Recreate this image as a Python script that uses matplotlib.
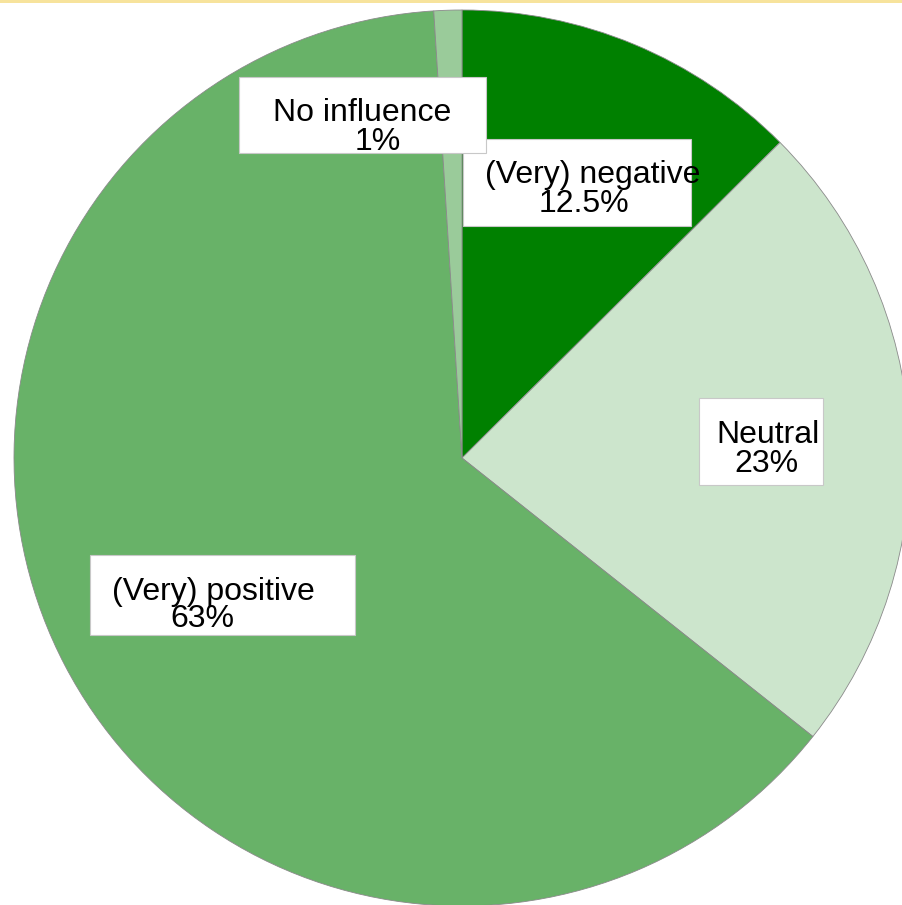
import matplotlib.pyplot as plt
from matplotlib.patches import Rectangle

plt.rcParams['font.family'] = ['Liberation Sans', 'DejaVu Sans']

# Data
categorias = ['(Very) negative', 'Neutral', '(Very) positive', 'No influence']
valores = [12.5, 23, 63, 1]
percentuais = ['12.5%', '23%', '63%', '1%']
cores = ['#008000', '#cce5cc', '#68b268', '#9acb9a']

# Layout (pixel coords of the 902x905 image)
W, H = 902, 905
cx, cy, raio = 462, 458, 448
# caixa: (x0, y0, x1, y1); nome: (x centro, baseline); pct: (x centro, baseline)
caixas = [(463, 139, 691, 226), (699, 398, 823, 485), (90, 555, 355, 635), (239, 77, 486, 153)]
pos_nome = [(593, 183), (768, 443), (213, 600), (362, 121)]
pos_pct = [(584, 212), (766, 472), (202, 627), (378, 150)]

fig = plt.figure(figsize=(W / 100, H / 100), dpi=100)
ax = fig.add_axes([(cx - raio) / W, (H - cy - raio) / H, 2 * raio / W, 2 * raio / H])
ax.pie(valores, colors=cores, startangle=90, counterclock=False,
       wedgeprops=dict(edgecolor='#8a8a8a', linewidth=0.6))
ax.set_xlim(-1, 1)
ax.set_ylim(-1, 1)
ax.set_aspect('auto')
ax.axis('off')


def fx(px):
    return px / W


def fy(py):
    return (H - py) / H


# Caixas brancas com os rótulos
for (x0, y0, x1, y1), nome, pct, pn, pp in zip(caixas, categorias, percentuais, pos_nome, pos_pct):
    fig.patches.append(Rectangle((fx(x0), fy(y1)), fx(x1) - fx(x0), fy(y0) - fy(y1),
                                 transform=fig.transFigure, facecolor='white',
                                 edgecolor='#c8c8c8', linewidth=0.8, zorder=3))
    fig.text(fx(pn[0]), fy(pn[1]), nome, ha='center', va='baseline', fontsize=23, zorder=4)
    fig.text(fx(pp[0]), fy(pp[1]), pct, ha='center', va='baseline', fontsize=23, zorder=4)

# Faixa amarela no topo
fig.patches.append(Rectangle((0, fy(3)), 1, 3 / H, transform=fig.transFigure,
                             facecolor='#f7e39c', edgecolor='none', zorder=5))

plt.savefig('out.png', dpi=100)
